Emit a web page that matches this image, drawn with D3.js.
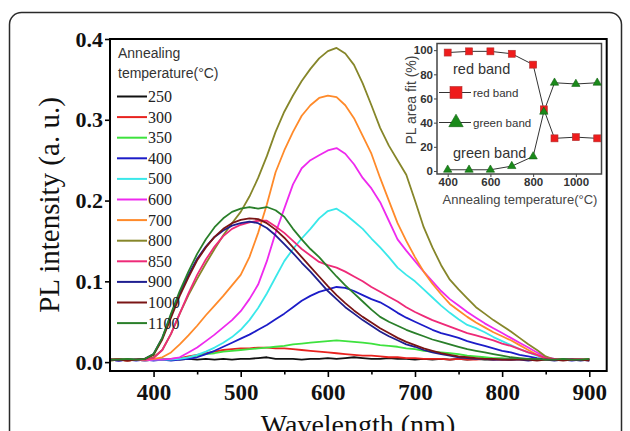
<!DOCTYPE html>
<html>
<head>
<meta charset="utf-8">
<script src="https://d3js.org/d3.v7.min.js"></script>
<style>
body { margin: 0; background: #fff; }
</style>
</head>
<body>
<svg id="svg1" width="630" height="431"></svg>
<script>
const wavelengths = [350,360,370,380,390,400,410,420,430,440,450,460,470,480,490,500,510,520,530,540,
    550,560,570,580,590,600,610,620,630,640,650,660,670,680,690,700,710,720,730,740,
    750,760,770,780,790,800,810,820,830,840,850,860,870,880,890,900];

const temps = ['250','300','350','400','500','600','700','800','850','900','1000','1100'];

const s250 = [.003,.004,.003,.003,.004,.003, .003,.004,.003,.004,.003, .004,.003,.004,.003,.004,
    .004,.005,.006,.004,.004, .004,.003,.004,.004,.005, .004,.005,.006,.005,.004, .004,.005,.004,.004,.003,
    .004,.003,.004,.003,.004, .003,.004,.003,.003,.004, .003,.004,.003,.003,.004, .003,.004,.003,.004,.003];
const s300 = [.002,.003,.002,.003,.002,.003, .003,.004,.005,.007,.009, .011,.013,.015,.016,.017,
    .017,.018,.018,.017,.017, .016,.015,.014,.013,.012, .011,.010,.009,.008,.008, .007,.006,.006,.005,.005,
    .004,.004,.004,.003,.004, .003,.003,.004,.003,.003, .003,.004,.003,.003,.004, .003,.003,.004,.003,.003];
const s350 = [.002,.003,.002,.003,.002,.003, .003,.003,.004,.006,.008, .010,.011,.013,.014,.015,
    .016,.017,.018,.019,.020, .022,.023,.024,.025,.026, .027,.026,.025,.024,.023, .021,.020,.019,.017,.016,
    .014,.013,.012,.011,.010, .008,.007,.006,.005,.005, .004,.004,.003,.004,.003, .003,.003,.004,.003,.003];
const s400 = [.003,.002,.003,.002,.003,.002, .003,.002,.003,.004,.006, .010,.014,.019,.024,.029,
    .034,.040,.046,.053,.060, .068,.076,.082,.087,.090, .093,.092,.088,.083,.078, .074,.068,.061,.055,.050,
    .045,.040,.036,.033,.030, .026,.023,.020,.017,.014, .012,.009,.007,.005,.004, .003,.003,.002,.003,.002];
const s500 = [.003,.002,.003,.003,.002,.003, .003,.003,.004,.006,.009, .013,.018,.024,.031,.040,
    .052,.067,.085,.105,.125, .140,.153,.165,.178,.187, .190,.183,.174,.165,.153, .142,.130,.117,.108,.100,
    .090,.080,.070,.061,.053, .046,.042,.037,.031,.026, .021,.016,.012,.008,.005, .004,.003,.003,.004,.003];
const s600 = [.003,.002,.003,.003,.002,.003, .003,.004,.006,.012,.018, .026,.034,.043,.052,.063,
    .078,.096,.125,.160,.190, .220,.240,.250,.256,.262, .265,.258,.245,.228,.215, .198,.175,.152,.138,.125,
    .112,.100,.088,.078,.070, .062,.055,.048,.042,.036, .030,.024,.018,.012,.006, .004,.004,.003,.004,.003];
const s700 = [.003,.003,.002,.003,.003,.004, .006,.012,.022,.033,.045, .058,.070,.082,.095,.108,
    .130,.160,.195,.235,.262, .285,.305,.318,.327,.330, .328,.318,.302,.280,.258, .228,.200,.172,.150,.130,
    .112,.097,.084,.072,.064, .056,.049,.043,.037,.032, .027,.021,.015,.009,.004, .003,.004,.003,.003,.004];
const s800 = [.003,.003,.004,.003,.003,.006, .015,.035,.060,.083,.103, .122,.140,.157,.172,.186,
    .205,.228,.255,.285,.310, .330,.348,.363,.376,.385, .389,.382,.368,.345,.318, .290,.268,.250,.232,.200,
    .167,.142,.120,.102,.090, .079,.068,.060,.052,.045, .038,.030,.022,.015,.007, .003,.004,.003,.003,.004];
const s850 = [.003,.003,.002,.003,.003,.005, .015,.035,.060,.085,.108, .127,.143,.156,.165,.170,
    .173,.175,.175,.168,.160, .150,.140,.132,.124,.120, .117,.112,.106,.100,.093, .087,.081,.075,.068,.062,
    .057,.052,.048,.044,.040, .036,.033,.030,.027,.023, .020,.016,.012,.009,.005, .004,.003,.004,.003,.003];
const s900 = [.003,.002,.003,.003,.004,.010, .030,.058,.085,.108,.128, .143,.155,.163,.169,.172,
    .174,.172,.166,.157,.146, .135,.123,.112,.100,.088, .078,.068,.060,.052,.045, .038,.032,.027,.022,.019,
    .015,.012,.010,.008,.006, .005,.004,.004,.003,.003, .003,.003,.002,.003,.003, .002,.003,.003,.002,.003];
const s1000 = [.003,.003,.002,.003,.004,.009, .028,.055,.082,.105,.126, .142,.155,.165,.172,.176,
    .178,.177,.172,.164,.154, .142,.130,.118,.106,.094, .083,.073,.064,.056,.049, .042,.036,.030,.025,.021,
    .017,.014,.011,.009,.007, .006,.005,.004,.004,.003, .003,.003,.003,.002,.003, .003,.002,.003,.003,.002];
const s1100 = [.003,.003,.004,.003,.004,.010, .030,.060,.088,.112,.134, .152,.167,.178,.186,.190,
    .192,.190,.192,.188,.180, .165,.152,.140,.130,.118, .106,.095,.085,.075,.065, .056,.050,.045,.040,.036,
    .032,.028,.025,.022,.019, .016,.014,.012,.010,.008, .006,.005,.004,.004,.003, .003,.004,.003,.003,.004];

const series = [s250, s300, s350, s400, s500, s600, s700, s800, s850, s900, s1000, s1100];

const xTicks = [400, 500, 600, 700, 800, 900];
const xMinorTicks = [450, 550, 650, 750, 850];
const yTicks = [0, 0.1, 0.2, 0.3, 0.4];

// inset: fitted band areas
const annealTemps = [400, 500, 600, 700, 800, 850, 900, 1000, 1100];
const redBand = [98, 99, 99, 97, 88, 51, 27, 28, 27];
const greenBand = [1, 1, 1, 4, 12, 49, 73, 72, 73];
const insetXTicks = [400, 600, 800, 1000];
const insetYTicks = [0, 20, 40, 60, 80, 100];

const colorScale = d3.scaleOrdinal().domain(temps)
    .range(['#111111','#e8231f','#3ee23e','#1c1cc8','#3ae8ea','#ee2aee',
            '#ff8a2a','#86862a','#ee2a78','#1f1f90','#7a1515','#2a7f2a']);

var svg = d3.select("#svg1");

svg.append("rect")
    .attr("x", 9.5).attr("y", 12.5)
    .attr("width", 612).attr("height", 470)
    .attr("rx", 12)
    .attr("fill", "none")
    .attr("stroke", "#2a2a2a")
    .attr("stroke-width", 1.5);

var x = d3.scaleLinear().domain([350, 920]).range([110, 606.7]);
var y = d3.scaleLinear().domain([-0.011, 0.4]).range([371, 39]);

svg.append("clipPath").attr("id", "plotclip")
    .append("rect")
    .attr("x", 110).attr("y", 39)
    .attr("width", 496.7).attr("height", 332);

var line = d3.line()
    .x((d, i) => x(wavelengths[i]))
    .y(d => y(d));

svg.append("g")
    .attr("clip-path", "url(#plotclip)")
    .selectAll("path")
    .data(series)
    .enter().append("path")
    .attr("d", line)
    .attr("fill", "none")
    .attr("stroke", (d, i) => colorScale(temps[i]))
    .attr("stroke-width", 1.8)
    .attr("stroke-linejoin", "round");

// axes
var xAxis = svg.append("g")
    .attr("transform", "translate(0,371)")
    .call(d3.axisBottom(x).tickValues(xTicks).tickSize(6).tickPadding(7).tickFormat(d3.format("d")));
svg.append("g")
    .attr("transform", "translate(0,371)")
    .call(d3.axisBottom(x).tickValues(xMinorTicks).tickSize(3.5).tickFormat(""));
var yAxis = svg.append("g")
    .attr("transform", "translate(110,0)")
    .call(d3.axisLeft(y).tickValues(yTicks).tickSize(5).tickPadding(2).tickFormat(d3.format(".1f")));

svg.selectAll(".domain").remove();
svg.selectAll(".tick line").attr("stroke", "#000").attr("stroke-width", 1.6);
svg.selectAll(".tick text")
    .attr("fill", "#111")
    .style("font-family", "'Liberation Serif', 'Times New Roman', serif")
    .style("font-weight", "bold")
    .style("font-size", "22px");
xAxis.selectAll(".tick text").style("font-size", "23px");

svg.append("rect")
    .attr("x", 110).attr("y", 39)
    .attr("width", 496.7).attr("height", 332)
    .attr("fill", "none")
    .attr("stroke", "#000")
    .attr("stroke-width", 2);

svg.append("text")
    .attr("x", 358)
    .attr("y", 434)
    .attr("text-anchor", "middle")
    .style("font-family", "'Liberation Serif', 'Times New Roman', serif")
    .style("font-size", "28px")
    .attr("fill", "#111")
    .text("Wavelength (nm)");
svg.append("text")
    .attr("transform", "translate(59,205) rotate(-90)")
    .attr("text-anchor", "middle")
    .style("font-family", "'Liberation Serif', 'Times New Roman', serif")
    .style("font-size", "29px")
    .attr("fill", "#111")
    .text("PL intensity (a. u.)");

// legend
const legend = svg.append("g");
legend.append("text")
    .attr("x", 118).attr("y", 58)
    .style("font-family", "'Liberation Sans', Arial, sans-serif")
    .style("font-size", "14px")
    .attr("fill", "#333")
    .text("Annealing");
legend.append("text")
    .attr("x", 118).attr("y", 78)
    .style("font-family", "'Liberation Sans', Arial, sans-serif")
    .style("font-size", "14px")
    .attr("fill", "#333")
    .text("temperature(\u00B0C)");

const legendItems = legend.selectAll(".legend-item")
    .data(temps)
    .enter().append("g")
    .attr("class", "legend-item")
    .attr("transform", (d, i) => `translate(117, ${96.5 + i * 20.6})`);
legendItems.append("line")
    .attr("x1", 0).attr("x2", 30)
    .attr("stroke", colorScale)
    .attr("stroke-width", 2);
legendItems.append("text")
    .attr("x", 31)
    .attr("y", 5.5)
    .style("font-family", "'Liberation Serif', 'Times New Roman', serif")
    .style("font-size", "16px")
    .attr("fill", "#222")
    .text(d => d);

// inset
var ix = d3.scaleLinear().domain([350, 1120]).range([437, 601.5]);
var iy = d3.scaleLinear().domain([-2.5, 105.5]).range([174, 43.5]);
var inset = svg.append("g");

inset.append("rect")
    .attr("x", 437).attr("y", 43.5)
    .attr("width", 164.5).attr("height", 130.5)
    .attr("fill", "#fff")
    .attr("stroke", "#444")
    .attr("stroke-width", 1.5);

var ixAxis = inset.append("g")
    .attr("transform", "translate(0,174)")
    .call(d3.axisBottom(ix).tickValues(insetXTicks).tickSize(3).tickPadding(1).tickFormat(d3.format("d")));
var iyAxis = inset.append("g")
    .attr("transform", "translate(437,0)")
    .call(d3.axisLeft(iy).tickValues(insetYTicks).tickSize(3).tickPadding(1));
inset.selectAll(".domain").remove();
inset.selectAll(".tick line").attr("stroke", "#444").attr("stroke-width", 1);
inset.selectAll(".tick text")
    .attr("fill", "#333")
    .style("font-family", "'Liberation Sans', Arial, sans-serif")
    .style("font-weight", "bold")
    .style("font-size", "11.5px");

inset.append("text")
    .attr("transform", "translate(416,100) rotate(-90)")
    .attr("text-anchor", "middle")
    .style("font-family", "'Liberation Sans', Arial, sans-serif")
    .style("font-size", "14px")
    .attr("fill", "#444")
    .text("PL area fit (%)");
inset.append("text")
    .attr("x", 520).attr("y", 204)
    .attr("text-anchor", "middle")
    .style("font-family", "'Liberation Sans', Arial, sans-serif")
    .style("font-size", "13px")
    .attr("fill", "#444")
    .text("Annealing temperature(\u00B0C)");

var iline = d3.line()
    .x((d, i) => ix(annealTemps[i]))
    .y(d => iy(d));

inset.append("path").attr("d", iline(redBand))
    .attr("fill", "none").attr("stroke", "#333").attr("stroke-width", 1);
inset.append("path").attr("d", iline(greenBand))
    .attr("fill", "none").attr("stroke", "#333").attr("stroke-width", 1);

inset.selectAll(".red-pt")
    .data(redBand)
    .enter().append("rect")
    .attr("class", "red-pt")
    .attr("x", (d, i) => ix(annealTemps[i]) - 3.5)
    .attr("y", d => iy(d) - 3.5)
    .attr("width", 7).attr("height", 7)
    .attr("fill", "#ee1c1c")
    .attr("stroke", "#b03030")
    .attr("stroke-width", 0.6);

var tri = d3.symbol().type(d3.symbolTriangle);
inset.selectAll(".green-pt")
    .data(greenBand)
    .enter().append("path")
    .attr("class", "green-pt")
    .attr("d", tri.size(30)())
    .attr("transform", (d, i) => `translate(${ix(annealTemps[i])},${iy(d)})`)
    .attr("fill", "#1a8a1a")
    .attr("stroke", "#0f5f0f")
    .attr("stroke-width", 0.6);

// inset legend
inset.append("line").attr("x1", 439).attr("x2", 471).attr("y1", 92.5).attr("y2", 92.5)
    .attr("stroke", "#333").attr("stroke-width", 1);
inset.append("rect").attr("x", 450).attr("y", 86.5).attr("width", 12).attr("height", 12)
    .attr("fill", "#ee1c1c").attr("stroke", "#b03030").attr("stroke-width", 0.6);
inset.append("text").attr("x", 473).attr("y", 96.5)
    .style("font-family", "'Liberation Sans', Arial, sans-serif")
    .style("font-size", "11.5px").attr("fill", "#333")
    .text("red band");

inset.append("line").attr("x1", 439).attr("x2", 471).attr("y1", 122.5).attr("y2", 122.5)
    .attr("stroke", "#333").attr("stroke-width", 1);
inset.append("path").attr("d", tri.size(90)())
    .attr("transform", "translate(456,122.5)")
    .attr("fill", "#1a8a1a").attr("stroke", "#0f5f0f").attr("stroke-width", 0.6);
inset.append("text").attr("x", 473).attr("y", 126.5)
    .style("font-family", "'Liberation Sans', Arial, sans-serif")
    .style("font-size", "11.5px").attr("fill", "#333")
    .text("green band");

inset.append("text").attr("x", 453).attr("y", 73.5)
    .style("font-family", "'Liberation Sans', Arial, sans-serif")
    .style("font-size", "14.5px").attr("fill", "#333")
    .text("red band");
inset.append("text").attr("x", 453).attr("y", 157.5)
    .style("font-family", "'Liberation Sans', Arial, sans-serif")
    .style("font-size", "14.5px").attr("fill", "#333")
    .text("green band");
</script>
</body>
</html>
